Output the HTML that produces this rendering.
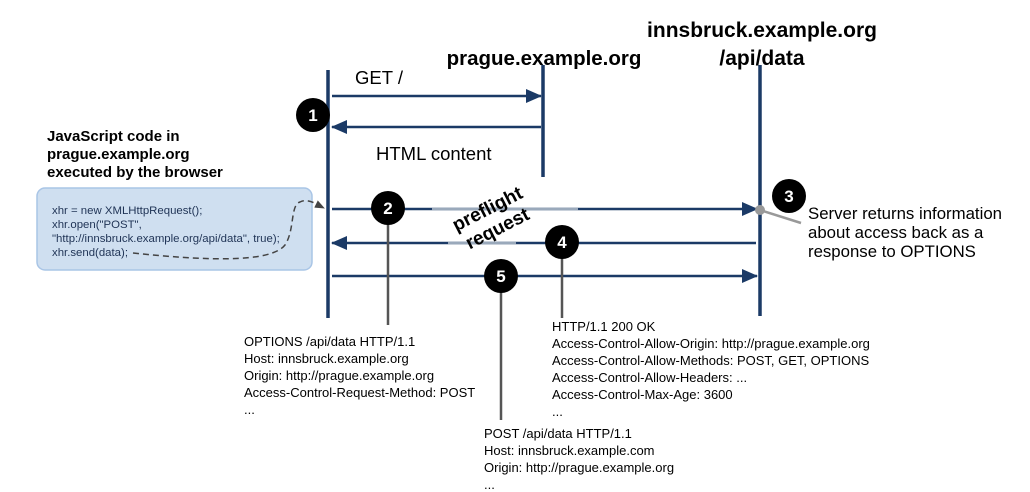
<!DOCTYPE html>
<html><head><meta charset="utf-8"><style>
html,body{margin:0;padding:0;background:#fff}
svg{display:block}
text{font-family:"Liberation Sans",Arial,sans-serif}
</style></head><body>
<svg width="1030" height="492" viewBox="0 0 1030 492" xmlns="http://www.w3.org/2000/svg">
<defs>
<marker id="ah2" markerWidth="16" markerHeight="14" refX="15" refY="7" orient="auto" markerUnits="userSpaceOnUse" viewBox="0 0 16 14">
<path d="M0,0 L16,7 L0,14 z" fill="#1b3a66"/></marker>
<marker id="sa" markerWidth="10" markerHeight="8" refX="9" refY="4" orient="auto" markerUnits="userSpaceOnUse">
<path d="M0,0 L10,4 L0,8 z" fill="#444"/></marker>
</defs>
<g stroke="#1b3a66" stroke-width="3.5">
<line x1="328" y1="70" x2="328" y2="318"/>
<line x1="543" y1="65" x2="543" y2="177"/>
<line x1="760" y1="65" x2="760" y2="316"/>
</g>
<g stroke="#1b3a66" stroke-width="2.5">
<line x1="332" y1="96" x2="541" y2="96" marker-end="url(#ah2)"/>
<line x1="541" y1="127" x2="332" y2="127" marker-end="url(#ah2)"/>
<line x1="332" y1="209" x2="757" y2="209" marker-end="url(#ah2)"/>
<line x1="756" y1="243" x2="332" y2="243" marker-end="url(#ah2)"/>
<line x1="332" y1="276" x2="757" y2="276" marker-end="url(#ah2)"/>
</g>
<line x1="432" y1="209" x2="578" y2="209" stroke="#9aa9bb" stroke-width="2.5"/>
<line x1="448" y1="243" x2="516" y2="243" stroke="#9aa9bb" stroke-width="2.5"/>
<g stroke="#555" stroke-width="2.5">
<line x1="388" y1="208" x2="388" y2="325"/>
<line x1="562" y1="242" x2="562" y2="318"/>
<line x1="501" y1="276" x2="501" y2="420"/>
</g>
<line x1="760" y1="210" x2="801" y2="223" stroke="#999" stroke-width="2.5"/>
<circle cx="760" cy="210" r="5" fill="#999"/>
<g font-weight="bold" font-size="17" fill="#fff" text-anchor="middle">
<circle cx="313" cy="115" r="17" fill="#000"/><text x="313" y="121">1</text>
<circle cx="388" cy="208" r="17" fill="#000"/><text x="388" y="214">2</text>
<circle cx="789" cy="196" r="17" fill="#000"/><text x="789" y="202">3</text>
<circle cx="562" cy="242" r="17" fill="#000"/><text x="562" y="248">4</text>
<circle cx="501" cy="276" r="17" fill="#000"/><text x="501" y="282">5</text>
</g>
<text x="355" y="84" font-size="18.5">GET /</text>
<text x="376" y="160" font-size="18.5">HTML content</text>
<text x="544" y="65" font-size="20.5" font-weight="bold" text-anchor="middle">prague.example.org</text>
<text x="762" y="37" font-size="21" font-weight="bold" text-anchor="middle">innsbruck.example.org</text>
<text x="762" y="65" font-size="21" font-weight="bold" text-anchor="middle">/api/data</text>
<g font-size="15" font-weight="bold">
<text x="47" y="141">JavaScript code in</text>
<text x="47" y="159">prague.example.org</text>
<text x="47" y="177">executed by the browser</text>
</g>
<rect x="37" y="188" width="275" height="82" rx="8" fill="#cfdff0" stroke="#a9c5e6" stroke-width="1.5"/>
<g font-size="11.4" fill="#1f3355">
<text x="52" y="214">xhr = new XMLHttpRequest();</text>
<text x="52" y="228">xhr.open("POST",</text>
<text x="52" y="242">"http://innsbruck.example.org/api/data", true);</text>
<text x="52" y="256">xhr.send(data);</text>
</g>
<path d="M133,253 C200,260 270,264 285,245 C295,230 290,205 300,202 C308,198 316,204 324,208" fill="none" stroke="#444" stroke-width="1.5" stroke-dasharray="6,4" marker-end="url(#sa)"/>
<g transform="translate(492,218) rotate(-27)" font-size="19" font-weight="bold" text-anchor="middle">
<text x="0" y="-4">preflight</text>
<text x="0" y="18">request</text>
</g>
<g font-size="16.8">
<text x="808" y="219">Server returns information</text>
<text x="808" y="238">about access back as a</text>
<text x="808" y="257">response to OPTIONS</text>
</g>
<g font-size="13">
<text x="244" y="346">OPTIONS /api/data HTTP/1.1</text>
<text x="244" y="363">Host: innsbruck.example.org</text>
<text x="244" y="380">Origin: http://prague.example.org</text>
<text x="244" y="397">Access-Control-Request-Method: POST</text>
<text x="244" y="414">...</text>
<text x="552" y="331">HTTP/1.1 200 OK</text>
<text x="552" y="348">Access-Control-Allow-Origin: http://prague.example.org</text>
<text x="552" y="365">Access-Control-Allow-Methods: POST, GET, OPTIONS</text>
<text x="552" y="382">Access-Control-Allow-Headers: ...</text>
<text x="552" y="399">Access-Control-Max-Age: 3600</text>
<text x="552" y="416">...</text>
<text x="484" y="438">POST /api/data HTTP/1.1</text>
<text x="484" y="455">Host: innsbruck.example.com</text>
<text x="484" y="472">Origin: http://prague.example.org</text>
<text x="484" y="489">...</text>
</g>
</svg>
</body></html>
